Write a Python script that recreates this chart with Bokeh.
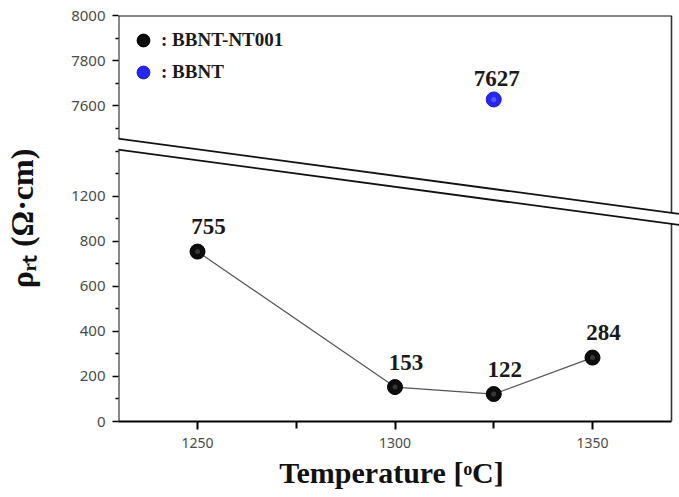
from bokeh.core.properties import value
from bokeh.embed import file_html
from bokeh.models import Arrow, FixedTicker, Legend, LegendItem, Range1d
from bokeh.plotting import figure
from bokeh.resources import INLINE

# ---- data -------------------------------------------------------------
temperature = [1250, 1300, 1325, 1350]
rho_nt001 = [755, 153, 122, 284]

temperature_bbnt = [1325]
rho_bbnt = [7627]

x_ticks = [1250, 1300, 1350]
x_minor_ticks = [1275, 1325]
x_tick_labels = ["1250", "1300", "1350"]

low_ticks = [0, 200, 400, 600, 800, 1000]
low_tick_labels = ["0", "200", "400", "600", "800", "1200"]
low_minor_ticks = [100, 300, 500, 700, 900, 1100, 1200]
high_ticks = [7600, 7800, 8000]
high_tick_labels = ["7600", "7800", "8000"]
high_minor_ticks = [7500, 7700, 7900]

# ---- broken y axis ----------------------------------------------------
# The main range holds the low values; the extra range "high" holds the
# upper block.  Both use the same units per pixel, shifted by HIGH_SHIFT.
X_START, X_END = 1230, 1370
LOW_END = 1804
HIGH_SHIFT = 6196

W, H = 679, 497
LEFT, TOP, BOTTOM = 118, 15, 76
BOX_W = 553                      # width of the boxed plot area
PX_PER_X = BOX_W / (X_END - X_START)
FRAME_H = H - TOP - BOTTOM
# the frame runs to the right edge so the break lines can run past the box
X_RANGE_END = X_START + (W - LEFT) / PX_PER_X


def X(px):
    """canvas pixel column -> x data value"""
    return X_START + (px - LEFT) / PX_PER_X


def Y(py):
    """canvas pixel row -> low-range y data value"""
    return (H - BOTTOM - py) * LOW_END / FRAME_H


p = figure(width=W, height=H, output_backend="svg", toolbar_location=None,
           x_range=Range1d(X_START, X_RANGE_END), y_range=Range1d(0, LOW_END),
           min_border_left=LEFT, min_border_right=0,
           min_border_top=TOP, min_border_bottom=BOTTOM,
           background_fill_color="white", border_fill_color="white")
p.extra_y_ranges = {"high": Range1d(HIGH_SHIFT, HIGH_SHIFT + LOW_END)}
p.grid.visible = False
p.outline_line_color = None

tick_font = "Noto Sans"
tick_color = "#4a4a4a"
title_font = "Liberation Serif"

# x axis
xa = p.xaxis[0]
xa.bounds = (X_START, X_END)
xa.ticker = FixedTicker(ticks=x_ticks, minor_ticks=x_minor_ticks)
xa.major_label_overrides = dict(zip(x_ticks, x_tick_labels))
xa.axis_line_color = "black"
xa.axis_line_width = 2
xa.major_tick_line_color = "black"
xa.major_tick_line_width = 2
xa.minor_tick_line_color = "black"
xa.minor_tick_line_width = 2
xa.major_tick_in = 0
xa.major_tick_out = 8
xa.minor_tick_in = 0
xa.minor_tick_out = 7
xa.major_label_standoff = 8
xa.major_label_text_font = tick_font
xa.major_label_text_font_size = "14px"
xa.major_label_text_color = tick_color
# trailing en space keeps the title centred under the boxed area
xa.axis_label = "Temperature [ᵒC]\u2002"
xa.axis_label_standoff = 5
xa.axis_label_text_font = title_font
xa.axis_label_text_font_style = "bold"
xa.axis_label_text_font_size = "30px"
xa.axis_label_text_color = "#111111"

# y axis: low and high ticks on one axis
ya = p.yaxis[0]
high_pos = [t - HIGH_SHIFT for t in high_ticks]
ya.ticker = FixedTicker(ticks=low_ticks + high_pos,
                        minor_ticks=low_minor_ticks + [t - HIGH_SHIFT for t in high_minor_ticks])
ya.major_label_overrides = dict(zip(low_ticks + high_pos, low_tick_labels + high_tick_labels))
ya.axis_line_color = None
ya.major_tick_line_color = "black"
ya.major_tick_line_width = 1.5
ya.minor_tick_line_color = "black"
ya.minor_tick_line_width = 1.5
ya.major_tick_in = 0
ya.major_tick_out = 6
ya.minor_tick_in = 0
ya.minor_tick_out = 3
ya.major_label_standoff = 7
ya.major_label_text_font = tick_font
ya.major_label_text_font_size = "15px"
ya.major_label_text_color = tick_color
ya.axis_label = "ρᵣₜ (Ω·cm)"
ya.axis_label_standoff = 28
ya.axis_label_text_font = title_font
ya.axis_label_text_font_style = "bold"
ya.axis_label_text_font_size = "32px"
ya.axis_label_text_color = "#111111"

# ---- break band and box edges -----------------------------------------
break_x = (X(108), X(679))
break_upper = (Y(136.8), Y(213.5))
break_lower = (Y(147.8), Y(224.5))


def on_line(line, x):
    t = (x - break_x[0]) / (break_x[1] - break_x[0])
    return line[0] + t * (line[1] - line[0])


def seg(x0, y0, x1, y1, width=2.0, color="#111111"):
    p.add_layout(Arrow(start=None, end=None, x_start=x0, y_start=y0,
                       x_end=x1, y_end=y1, line_color=color, line_width=width))


# left axis line, broken
seg(X_START, 0, X_START, on_line(break_lower, X_START))
seg(X_START, on_line(break_upper, X_START), X_START, LOW_END)
# right box edge, broken
seg(X_END, 0, X_END, on_line(break_lower, X_END), 1.6, "#333333")
seg(X_END, on_line(break_upper, X_END), X_END, LOW_END, 1.6, "#333333")
# top box edge
seg(X_START, LOW_END, X_END, LOW_END, 2.0)
# the two slanted break lines
seg(break_x[0], break_upper[0], break_x[1], break_upper[1], 1.8)
seg(break_x[0], break_lower[0], break_x[1], break_lower[1], 1.8)

# ---- series -----------------------------------------------------------
p.line(temperature, rho_nt001, line_color="#555555", line_width=1.2)
black = p.scatter(temperature, rho_nt001, size=15, fill_color="#0d0d0d",
                  line_color="#000000", line_width=1)
p.scatter(temperature, rho_nt001, size=5, fill_color="#6a6a6a",
          line_color=None, fill_alpha=0.45)

blue = p.scatter(temperature_bbnt, rho_bbnt, y_range_name="high", size=15,
                 fill_color="#2626ee", line_color="#1a1ad0", line_width=1)
p.scatter(temperature_bbnt, rho_bbnt, y_range_name="high", size=5,
          fill_color="#7a7aff", line_color=None, fill_alpha=0.6)

label_font = value("Liberation Serif")
p.text(temperature, rho_nt001, text=[str(v) for v in rho_nt001],
       x_offset=11, y_offset=-25, text_align="center",
       text_baseline="alphabetic", text_font=label_font,
       text_font_style="bold", text_font_size="23px", text_color="#1a1a1a")
p.text(temperature_bbnt, rho_bbnt, y_range_name="high",
       text=[str(v) for v in rho_bbnt], x_offset=3, y_offset=-21,
       text_align="center", text_baseline="alphabetic", text_font=label_font,
       text_font_style="bold", text_font_size="23px", text_color="#1a1a1a")

# ---- legend -----------------------------------------------------------
legend = Legend(items=[LegendItem(label=": BBNT-NT001", renderers=[black]),
                       LegendItem(label=": BBNT", renderers=[blue])],
                location="top_left", margin=9, padding=9, spacing=0,
                glyph_width=32, glyph_height=32, label_standoff=2,
                border_line_color=None, background_fill_alpha=0,
                label_text_font=title_font, label_text_font_style="bold",
                label_text_font_size="19px", label_text_color="#1a1a1a")
p.add_layout(legend)

open("out.html", "w").write(file_html(p, INLINE))
